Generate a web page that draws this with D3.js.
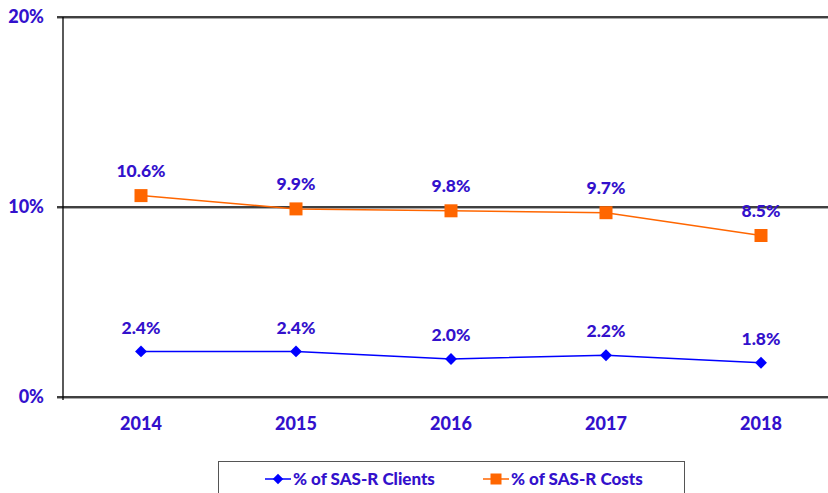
<!DOCTYPE html>
<html>
<head>
<meta charset="utf-8">
<script src="https://cdn.jsdelivr.net/npm/d3@7"></script>
<style>
  body { margin: 0; background: #fff; }
  svg text { font-family: Lato, "Open Sans", sans-serif; font-weight: 900; fill: #3311CC; }
</style>
</head>
<body>
<div id="chart"></div>
<script>
const years = ["2014", "2015", "2016", "2017", "2018"];
const clients = [2.4, 2.4, 2.0, 2.2, 1.8];
const costs = [10.6, 9.9, 9.8, 9.7, 8.5];
const yTicks = [0, 10, 20];

const width = 828, height = 493;
const plotLeft = 63, plotTop = 17, plotBottom = 397;

const svg = d3.select("#chart").append("svg")
  .attr("width", width).attr("height", height);

// band centers spaced 155px, first at 141
let x = d3.scalePoint().domain(years).range([141, 761]);
let y = d3.scaleLinear().domain([0, 20]).range([plotBottom, plotTop]);

// gridlines (with a faint grey shadow like the original)
yTicks.forEach(function(t) {
  svg.append("line")
    .attr("x1", plotLeft - 6).attr("x2", width)
    .attr("y1", y(t) + 1.5).attr("y2", y(t) + 1.5)
    .attr("stroke", "#aaa").attr("stroke-width", 1);
  svg.append("line")
    .attr("x1", plotLeft - 6).attr("x2", width)
    .attr("y1", y(t)).attr("y2", y(t))
    .attr("stroke", "#000").attr("stroke-width", 1.3);
});

// left axis line
svg.append("line")
  .attr("x1", plotLeft).attr("x2", plotLeft)
  .attr("y1", plotTop).attr("y2", plotBottom + 3)
  .attr("stroke", "#000").attr("stroke-width", 1.3);

// y labels
svg.selectAll(".ylab").data(yTicks).enter().append("text")
  .attr("class", "ylab")
  .attr("x", 44).attr("y", function(d) { return y(d); })
  .attr("dy", "0.35em").attr("text-anchor", "end")
  .style("font-size", "18px")
  .text(function(d) { return d + "%"; });

// x labels
svg.selectAll(".xlab").data(years).enter().append("text")
  .attr("class", "xlab")
  .attr("x", function(d) { return x(d); }).attr("y", 424)
  .attr("dy", "0.35em").attr("text-anchor", "middle")
  .style("font-size", "18px")
  .text(function(d) { return d; });

let line = d3.line()
  .x(function(d, i) { return x(years[i]); })
  .y(function(d) { return y(d); });

// costs series
svg.append("path").datum(costs)
  .attr("d", line).attr("fill", "none")
  .attr("stroke", "#FF6600").attr("stroke-width", 1.5);
svg.selectAll(".sq").data(costs).enter().append("rect")
  .attr("x", function(d, i) { return x(years[i]) - 6.5; })
  .attr("y", function(d) { return y(d) - 6.5; })
  .attr("width", 13).attr("height", 13)
  .attr("fill", "#FF6600");

// clients series
svg.append("path").datum(clients)
  .attr("d", line).attr("fill", "none")
  .attr("stroke", "#0000FF").attr("stroke-width", 1.5);
svg.selectAll(".dia").data(clients).enter().append("path")
  .attr("d", d3.symbol().type(d3.symbolDiamond2).size(90))
  .attr("transform", function(d, i) { return "translate(" + x(years[i]) + "," + y(d) + ")"; })
  .attr("fill", "#0000FF");

// value labels
svg.selectAll(".clab").data(costs).enter().append("text")
  .attr("x", function(d, i) { return x(years[i]); })
  .attr("y", function(d) { return y(d) - 25; })
  .attr("dy", "0.35em").attr("text-anchor", "middle")
  .style("font-size", "17.5px")
  .text(function(d) { return d.toFixed(1) + "%"; });
svg.selectAll(".klab").data(clients).enter().append("text")
  .attr("x", function(d, i) { return x(years[i]); })
  .attr("y", function(d) { return y(d) - 24; })
  .attr("dy", "0.35em").attr("text-anchor", "middle")
  .style("font-size", "17.5px")
  .text(function(d) { return d.toFixed(1) + "%"; });

// legend
svg.append("rect")
  .attr("x", 218.5).attr("y", 461.5).attr("width", 466).attr("height", 40)
  .attr("fill", "#fff").attr("stroke", "#555").attr("stroke-width", 1);

let lg = svg.append("g");
lg.append("line").attr("x1", 265).attr("x2", 291).attr("y1", 479).attr("y2", 479)
  .attr("stroke", "#0000FF").attr("stroke-width", 1.5);
lg.append("path").attr("d", d3.symbol().type(d3.symbolDiamond2).size(70))
  .attr("transform", "translate(278,479)").attr("fill", "#0000FF");
lg.append("text").attr("x", 293).attr("y", 479).attr("dy", "0.35em")
  .style("font-size", "17px").text("% of SAS-R Clients");

lg.append("line").attr("x1", 483).attr("x2", 509).attr("y1", 479).attr("y2", 479)
  .attr("stroke", "#FF6600").attr("stroke-width", 1.5);
lg.append("rect").attr("x", 490.5).attr("y", 473.5).attr("width", 11).attr("height", 11)
  .attr("fill", "#FF6600");
lg.append("text").attr("x", 511).attr("y", 479).attr("dy", "0.35em")
  .style("font-size", "17px").text("% of SAS-R Costs");
</script>
</body>
</html>
